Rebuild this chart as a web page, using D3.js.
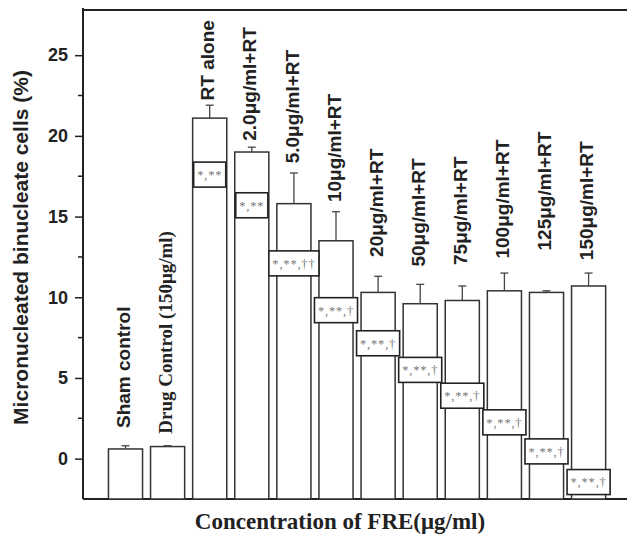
<!DOCTYPE html>
<html>
<head>
<meta charset="utf-8">
<script src="https://cdn.jsdelivr.net/npm/d3@7"></script>
<style>
  html, body { margin: 0; padding: 0; background: #fff; }
  svg { display: block; }
</style>
</head>
<body>
<svg id="chart" width="627" height="535"></svg>
<script>
const categories = ["Sham control", "Drug Control (150μg/ml)", "RT alone", "2.0μg/ml+RT", "5.0μg/ml+RT",
  "10μg/ml+RT", "20μg/ml+RT", "50μg/ml+RT", "75μg/ml+RT", "100μg/ml+RT", "125μg/ml+RT", "150μg/ml+RT"];
const means  = [0.6, 0.75, 21.1, 19.0, 15.8, 13.5, 10.3, 9.6, 9.8, 10.4, 10.3, 10.7];
const errors = [0.2, 0.05, 0.8, 0.3, 1.9, 1.8, 1.0, 1.2, 0.9, 1.1, 0.1, 0.8];
const significance = [null, null, "*,**", "*,**", "*,**,††", "*,**,†", "*,**,†", "*,**,†", "*,**,†", "*,**,†", "*,**,†", "*,**,†"];
const significanceAt = [null, null, 17.6, 15.7, 12.1, 9.2, 7.15, 5.5, 3.9, 2.25, 0.45, -1.45];
const labelAt = [1.9, 1.55, 22.2, 19.7, 18.3, 15.9, 12.5, 11.9, 12.0, 12.4, 12.9, 12.3];
const yTicks = [0, 5, 10, 15, 20, 25];
const yMinorTicks = [2.5, 7.5, 12.5, 17.5, 22.5];
const yDomain = [-2.5, 27.8];
const yTitle = "Micronucleated binucleate cells (%)";
const xTitle = "Concentration of FRE(μg/ml)";

(function () {
const svg = d3.select("#chart");
const mLeft = 83, mRight = 627, mTop = 10, mBottom = 499;

const x = d3.scaleBand().domain(categories).range([104.45, 609.65]).paddingInner(0.19).paddingOuter(0.095);
const y = d3.scaleLinear().domain(yDomain).range([mBottom, mTop]);

const sans = "'Liberation Sans', Arial, sans-serif";
const serif = "'Liberation Serif', 'Times New Roman', serif";

// frame lines
svg.append("line").attr("x1", mLeft).attr("x2", mRight).attr("y1", mTop).attr("y2", mTop)
  .attr("stroke", "#222").attr("stroke-width", 2);
svg.append("line").attr("x1", mLeft).attr("x2", mRight).attr("y1", mBottom).attr("y2", mBottom)
  .attr("stroke", "#222").attr("stroke-width", 2);

// y axis
const yAxis = d3.axisLeft(y).tickValues(yTicks).tickSize(8).tickPadding(7).tickFormat(d3.format("d"));
const gy = svg.append("g").attr("transform", `translate(${mLeft},0)`).call(yAxis);
gy.select(".domain").attr("stroke", "#222").attr("stroke-width", 2).attr("d", `M0,${mBottom}V${mTop - 2}`);
gy.selectAll(".tick line").attr("stroke", "#222").attr("stroke-width", 1.5);
gy.selectAll(".tick text").attr("font-family", sans).attr("font-weight", "bold").attr("font-size", 18).attr("fill", "#222");
svg.append("g").selectAll("line").data(yMinorTicks).join("line")
  .attr("x1", mLeft - 5).attr("x2", mLeft).attr("y1", d => y(d)).attr("y2", d => y(d))
  .attr("stroke", "#222").attr("stroke-width", 1.5);

// y title
svg.append("text")
  .attr("transform", `translate(28,${(68 + 427) / 2}) rotate(-90)`)
  .attr("text-anchor", "middle")
  .attr("font-family", sans).attr("font-weight", "bold").attr("font-size", 21).attr("fill", "#222")
  .text(yTitle);

// x title
svg.append("text")
  .attr("x", 340).attr("y", 529)
  .attr("text-anchor", "middle")
  .attr("font-family", serif).attr("font-weight", "bold").attr("font-size", 23).attr("fill", "#222")
  .text(xTitle);

const data = categories.map((c, i) => ({c, m: means[i], e: errors[i], s: significance[i], sy: significanceAt[i], ly: labelAt[i]}));

// bars
svg.append("g").selectAll("rect").data(data).join("rect")
  .attr("x", d => x(d.c)).attr("width", x.bandwidth())
  .attr("y", d => y(d.m)).attr("height", d => y(yDomain[0]) - y(d.m))
  .attr("fill", "#fff").attr("stroke", "#333").attr("stroke-width", 1.5);

// error bars
const eb = svg.append("g").selectAll("g").data(data).join("g");
eb.append("line")
  .attr("x1", d => x(d.c) + x.bandwidth() / 2).attr("x2", d => x(d.c) + x.bandwidth() / 2)
  .attr("y1", d => y(d.m)).attr("y2", d => y(d.m + d.e))
  .attr("stroke", "#444").attr("stroke-width", 1.3);
eb.append("line")
  .attr("x1", d => x(d.c) + x.bandwidth() / 2 - 4).attr("x2", d => x(d.c) + x.bandwidth() / 2 + 4)
  .attr("y1", d => y(d.m + d.e)).attr("y2", d => y(d.m + d.e))
  .attr("stroke", "#444").attr("stroke-width", 1.3);

// category labels
svg.append("g").selectAll("text").data(data).join("text")
  .attr("transform", d => `translate(${x(d.c) + x.bandwidth() / 2 - 2},${y(d.ly)}) rotate(-90)`)
  .attr("dy", "0.35em")
  .attr("text-anchor", "start")
  .attr("font-family", d => d.c.startsWith("Drug") ? serif : sans)
  .attr("font-weight", "bold").attr("font-size", 19).attr("fill", "#222")
  .text(d => d.c);

// significance boxes
const sig = svg.append("g").selectAll("g").data(data.filter(d => d.s)).join("g")
  .attr("transform", d => `translate(${x(d.c) + x.bandwidth() / 2},${y(d.sy)})`);
sig.append("rect").attr("fill", "#fff").attr("stroke", "#222").attr("stroke-width", 1.6);
const texts = sig.append("text")
  .attr("text-anchor", "middle").attr("dy", "0.35em")
  .attr("font-family", serif).attr("font-size", 12.5).attr("fill", "#777")
  .attr("letter-spacing", 0.8)
  .text(d => d.s);
texts.each(function () {
  const w = this.getComputedTextLength() + 7;
  d3.select(this.parentNode).select("rect")
    .attr("x", -w / 2).attr("width", w).attr("y", -12.5).attr("height", 25);
});
})();
</script>
</body>
</html>
